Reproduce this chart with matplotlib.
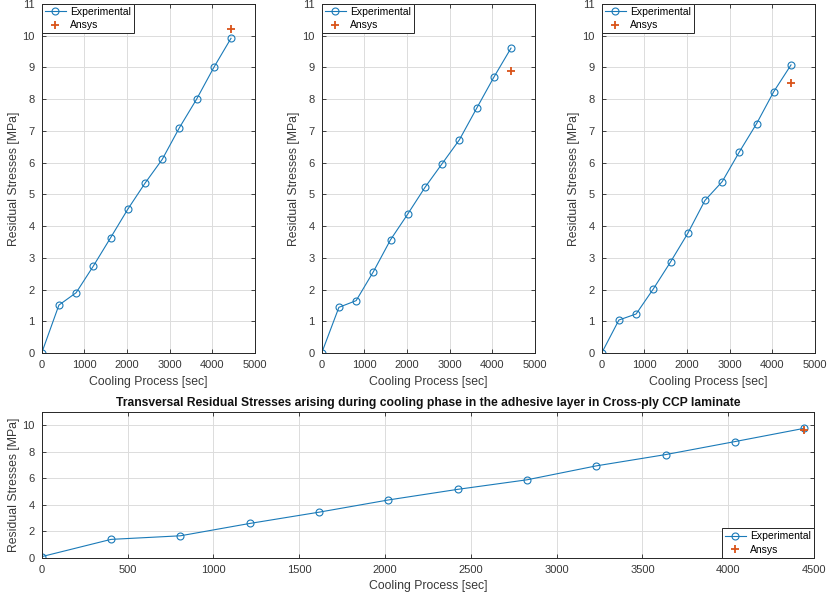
import matplotlib
matplotlib.use("Agg")
import matplotlib.pyplot as plt

plt.rcParams['font.family'] = ['Liberation Sans', 'DejaVu Sans']

# Data
time_sec = [0, 404, 808, 1212, 1616, 2020, 2424, 2828, 3232, 3636, 4040, 4444]
exp_left = [0, 1.51, 1.90, 2.74, 3.63, 4.53, 5.35, 6.10, 7.10, 8.00, 9.00, 9.92]
exp_mid = [0, 1.44, 1.65, 2.56, 3.57, 4.38, 5.22, 5.97, 6.72, 7.71, 8.69, 9.61]
exp_right = [0, 1.04, 1.23, 2.02, 2.87, 3.77, 4.81, 5.40, 6.34, 7.23, 8.24, 9.08]
exp_bottom = [0.08, 1.38, 1.65, 2.58, 3.43, 4.35, 5.15, 5.87, 6.92, 7.77, 8.75, 9.75]
ansys_time = [4444]
ansys_left = [10.2]
ansys_mid = [8.89]
ansys_right = [8.51]
ansys_bottom = [9.6]

title_bottom = "Transversal Residual Stresses arising during cooling phase in the adhesive layer in Cross-ply CCP laminate"

BLUE = '#1a7ab8'
ORANGE = '#D95319'
EDGE = '#262626'

fig = plt.figure(figsize=(8.27, 5.97), dpi=100)

W, H = 827, 597
def ax_at(x0, y0, x1, y1):
    return fig.add_axes([x0 / W, 1 - y1 / H, (x1 - x0) / W, (y1 - y0) / H])

def style(ax, xlim, ylim, xticks, yticks):
    ax.set_xlim(*xlim)
    ax.set_ylim(*ylim)
    ax.set_xticks(xticks)
    ax.set_yticks(yticks)
    ax.grid(True, color='#dcdcdc', linewidth=0.7)
    ax.set_axisbelow(True)
    ax.tick_params(direction='in', top=True, right=True, length=3, width=0.6,
                   labelsize=8, colors=EDGE, labelcolor='#383838', pad=5)
    for s in ax.spines.values():
        s.set_color(EDGE)
        s.set_linewidth(0.7)
    ax.set_xlabel('Cooling Process [sec]', fontsize=8.8, color='#383838', labelpad=4)
    ax.set_ylabel('Residual Stresses [MPa]', fontsize=8.8, color='#383838', labelpad=1.5)

def draw(ax, exp, ans, loc):
    ax.plot(time_sec, exp, '-o', color=BLUE, linewidth=0.8, markersize=5,
            markerfacecolor='none', markeredgewidth=0.8, label='Experimental')
    ax.plot(ansys_time, ans, '+', color=ORANGE, markersize=6, markeredgewidth=1.3,
            linestyle='none', label='Ansys')
    leg = ax.legend(loc=loc, fontsize=7.5, fancybox=False, edgecolor=EDGE,
                    framealpha=1, borderaxespad=0, handlelength=2.0,
                    borderpad=0.3, labelspacing=0.3, handletextpad=0.4)
    leg.get_frame().set_linewidth(0.7)

tops = [(41.7, exp_left, ansys_left), (321.7, exp_mid, ansys_mid), (601.7, exp_right, ansys_right)]
for x0, exp, ans in tops:
    ax = ax_at(x0, 4, x0 + 213, 353)
    style(ax, (0, 5000), (0, 11), range(0, 5001, 1000), range(0, 12, 1))
    draw(ax, exp, ans, 'upper left')

axb = ax_at(41.7, 411.7, 814, 557.7)
style(axb, (0, 4500), (0, 11), range(0, 4501, 500), range(0, 11, 2))
draw(axb, exp_bottom, ansys_bottom, 'lower right')
axb.set_title(title_bottom, fontsize=8.75, fontweight='bold', color='#111111', pad=4)

fig.savefig('out.png', dpi=100)
